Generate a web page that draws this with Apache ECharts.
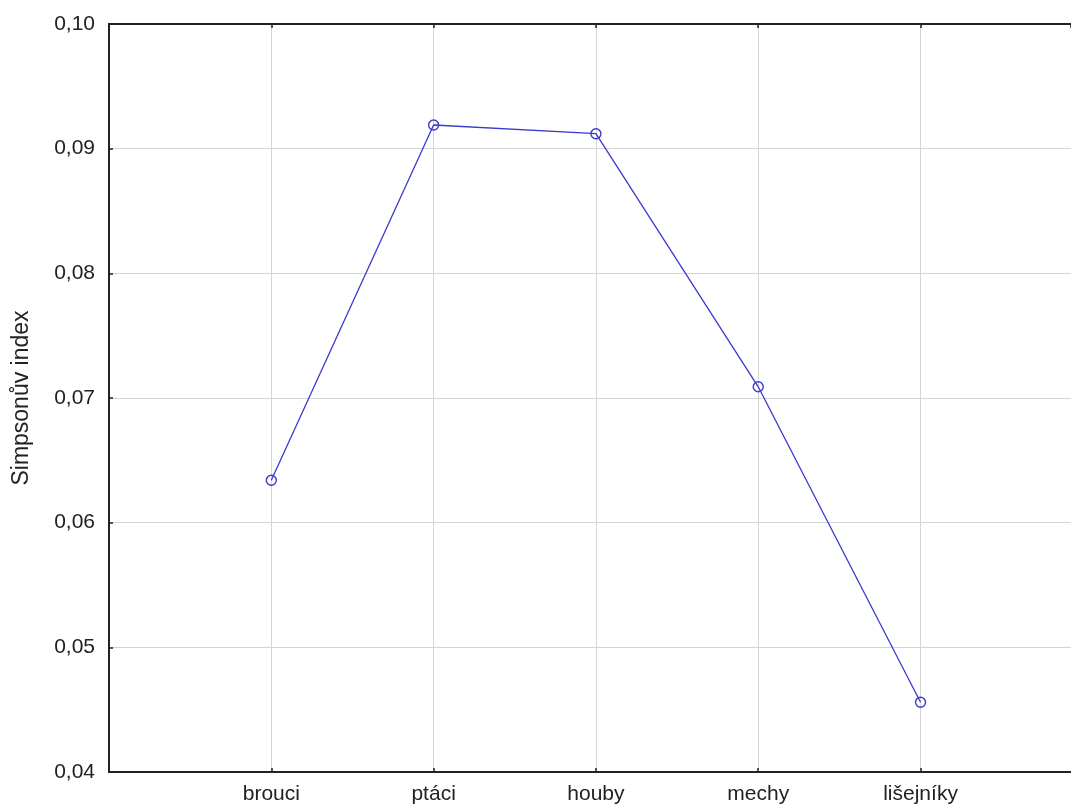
<!DOCTYPE html>
<html>
<head>
<meta charset="utf-8">
<script src="https://cdn.jsdelivr.net/npm/echarts@6/dist/echarts.min.js"></script>
<style>
html,body{margin:0;padding:0;background:#fff;overflow:hidden;}
#chart{width:1071px;height:812px;}
</style>
</head>
<body>
<div id="chart"></div>
<script>
const categories = ['brouci', 'ptáci', 'houby', 'mechy', 'lišejníky'];
const simpsonValues = [0.0634, 0.0919, 0.0912, 0.0709, 0.0456];
const yTicks = { min: 0.04, max: 0.10, interval: 0.01 };
const yTitle = 'Simpsonův index';

const FONT = '"Liberation Sans", Arial, sans-serif';
// category slots: position 0 = left frame, categories at 1..5; plot is cut on the right
const X_MIN = 0, X_MAX = 5.927;
const seriesData = categories.map((c, i) => [i + 1, simpsonValues[i]]);
const catLabel = v => (Number.isInteger(v) && v >= 1 && v <= categories.length) ? categories[v - 1] : '';

const chart = echarts.init(document.getElementById('chart'), null, { renderer: 'canvas' });

chart.setOption({
  backgroundColor: '#ffffff',
  animation: false,
  grid: { left: 109, top: 24, bottom: 40, right: 0, containLabel: false, outerBoundsMode: 'none' },
  xAxis: [
    {
      type: 'value',
      min: X_MIN, max: X_MAX, interval: 1,
      position: 'bottom',
      axisLine: { lineStyle: { color: '#222', width: 2 } },
      axisTick: { inside: true, length: 4, lineStyle: { color: '#222', width: 1.5 } },
      axisLabel: { color: '#222', fontFamily: FONT, fontSize: 21, margin: 12, formatter: catLabel, showMaxLabel: false },
      splitLine: { show: true, lineStyle: { color: '#d4d4d4', width: 1 } }
    },
    {
      type: 'value',
      min: X_MIN, max: X_MAX, interval: 1,
      position: 'top',
      axisLine: { lineStyle: { color: '#222', width: 2 } },
      axisTick: { inside: true, length: 4, lineStyle: { color: '#222', width: 1.5 } },
      axisLabel: { show: false },
      splitLine: { show: false }
    }
  ],
  yAxis: {
    type: 'value',
    min: yTicks.min,
    max: yTicks.max,
    interval: yTicks.interval,
    name: yTitle,
    nameLocation: 'middle',
    nameGap: 76,
    nameRotate: 90,
    nameTextStyle: { color: '#222', fontFamily: FONT, fontSize: 23 },
    axisLine: { show: true, lineStyle: { color: '#222', width: 2 } },
    axisTick: { show: true, inside: true, length: 4, lineStyle: { color: '#222', width: 1.5 } },
    axisLabel: {
      color: '#222', fontFamily: FONT, fontSize: 21, margin: 14,
      formatter: v => v.toFixed(2).replace('.', ',')
    },
    splitLine: { show: true, lineStyle: { color: '#d4d4d4', width: 1 } }
  },
  series: [{
    type: 'line',
    data: seriesData,
    xAxisIndex: 0,
    symbol: 'circle',
    symbolSize: 10,
    showSymbol: true,
    lineStyle: { color: '#3a3acc', width: 1.3 },
    itemStyle: { color: 'rgba(255,255,255,0)', borderColor: '#3a3acc', borderWidth: 1.4 }
  }]
});
</script>
</body>
</html>
